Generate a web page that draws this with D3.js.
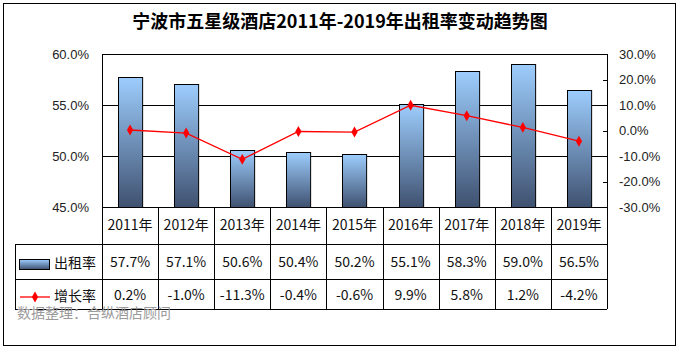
<!DOCTYPE html>
<html>
<head>
<meta charset="utf-8">
<script src="https://cdn.jsdelivr.net/npm/d3@7"></script>
<style>
  html, body { margin: 0; padding: 0; background: #fff; }
  svg { display: block; }
</style>
</head>
<body>
<div id="chart"></div>
<script>
// Ningbo five-star hotel occupancy 2011-2019: bars + growth line, Excel-style data table below

const years = ["2011年", "2012年", "2013年", "2014年", "2015年", "2016年", "2017年", "2018年", "2019年"];
const occupancy = [57.7, 57.1, 50.6, 50.4, 50.2, 55.1, 58.3, 59.0, 56.5];
const growth = [0.2, -1.0, -11.3, -0.4, -0.6, 9.9, 5.8, 1.2, -4.2];
const leftTicks = [45, 50, 55, 60];
const rightTicks = [-30, -20, -10, 0, 10, 20, 30];

const W = 682, H = 351;
const plot = { left: 102, right: 607, top: 54, bottom: 207 };
const rowY = [207, 244, 279, 309];   // table row edges
const tableLeft = 15;
const cjk = "'Noto Sans CJK SC', 'Noto Sans', sans-serif";
const latin = "'Liberation Sans', Arial, sans-serif";

const svg = d3.select("#chart").append("svg")
  .attr("width", W).attr("height", H);

const defs = svg.append("defs");
const grad = defs.append("linearGradient").attr("id", "barGrad")
  .attr("x1", "0").attr("y1", "0").attr("x2", "0").attr("y2", "1");
grad.append("stop").attr("offset", "0%").attr("stop-color", "#9dcdfd");
grad.append("stop").attr("offset", "100%").attr("stop-color", "#3f5170");

// outer frame
svg.append("rect").attr("x", 3.5).attr("y", 3.5).attr("width", 672).attr("height", 342)
  .attr("fill", "#fff").attr("stroke", "#000").attr("stroke-width", 1);

svg.append("text")
  .attr("x", 340).attr("y", 28).attr("text-anchor", "middle")
  .style("font-family", cjk).style("font-size", "18px").style("font-weight", "bold")
  .text("宁波市五星级酒店2011年-2019年出租率变动趋势图");

const x = d3.scaleBand().domain(years).range([plot.left, plot.right])
  .paddingInner(0.57).paddingOuter(0.285);
const yL = d3.scaleLinear().domain([45, 60]).range([plot.bottom, plot.top]);
const yR = d3.scaleLinear().domain([-30, 30]).range([plot.bottom, plot.top]);

// gridlines
svg.append("g").selectAll("line").data(leftTicks.slice(1, -1)).join("line")
  .attr("x1", plot.left).attr("x2", plot.right)
  .attr("y1", d => Math.round(yL(d)) + 0.5).attr("y2", d => Math.round(yL(d)) + 0.5)
  .attr("stroke", "#000").attr("stroke-width", 1);

// plot box
svg.append("rect").attr("x", plot.left + 0.5).attr("y", plot.top + 0.5)
  .attr("width", plot.right - plot.left).attr("height", plot.bottom - plot.top)
  .attr("fill", "none").attr("stroke", "#000");

// left axis labels
svg.append("g").selectAll("text").data(leftTicks).join("text")
  .attr("x", 89).attr("y", d => yL(d)).attr("dy", "0.35em").attr("text-anchor", "end")
  .style("font-family", latin).style("font-size", "13px").attr("fill", "#222")
  .text(d => d.toFixed(1) + "%");

// right axis ticks + labels
svg.append("g").selectAll("line").data(rightTicks).join("line")
  .attr("x1", plot.right - 4).attr("x2", plot.right)
  .attr("y1", d => Math.round(yR(d)) + 0.5).attr("y2", d => Math.round(yR(d)) + 0.5)
  .attr("stroke", "#000");
svg.append("g").selectAll("text").data(rightTicks).join("text")
  .attr("x", 619).attr("y", d => yR(d)).attr("dy", "0.35em")
  .style("font-family", latin).style("font-size", "13px").attr("fill", "#222")
  .text(d => d.toFixed(1) + "%");

// bars
svg.append("g").selectAll("rect").data(occupancy).join("rect")
  .attr("x", (d, i) => Math.round(x(years[i])) + 0.5)
  .attr("y", d => Math.round(yL(d)) + 0.5)
  .attr("width", x.bandwidth())
  .attr("height", d => plot.bottom - Math.round(yL(d)))
  .attr("fill", "url(#barGrad)").attr("stroke", "#000").attr("stroke-width", 1);

// growth line
const cx = i => x(years[i]) + x.bandwidth() / 2;
svg.append("path").datum(growth)
  .attr("d", d3.line().x((d, i) => cx(i)).y(d => yR(d)))
  .attr("fill", "none").attr("stroke", "#ff0000").attr("stroke-width", 1.3);
const diamond = d3.symbol().type(d3.symbolDiamond).size(34);
svg.append("g").selectAll("path").data(growth).join("path")
  .attr("transform", (d, i) => `translate(${cx(i)},${yR(d)})`)
  .attr("d", diamond).attr("fill", "#ff0000");

// data table
const step = x.step();
const colEdges = d3.range(years.length + 1).map(i => plot.left + i * step);
const tbl = svg.append("g").attr("stroke", "#000").attr("stroke-width", 1);
// horizontal lines
tbl.append("line").attr("x1", plot.left).attr("x2", plot.right)
  .attr("y1", rowY[0] + 0.5).attr("y2", rowY[0] + 0.5);
[rowY[1], rowY[2], rowY[3]].forEach(y => {
  tbl.append("line").attr("x1", tableLeft).attr("x2", plot.right)
    .attr("y1", y + 0.5).attr("y2", y + 0.5);
});
// vertical lines
colEdges.forEach(xx => {
  tbl.append("line").attr("x1", Math.round(xx) + 0.5).attr("x2", Math.round(xx) + 0.5)
    .attr("y1", rowY[0]).attr("y2", rowY[3]);
});
tbl.append("line").attr("x1", tableLeft + 0.5).attr("x2", tableLeft + 0.5)
  .attr("y1", rowY[1]).attr("y2", rowY[3]);

const cellText = (vals, yMid) => svg.append("g").selectAll("text").data(vals).join("text")
  .attr("x", (d, i) => plot.left + (i + 0.5) * step).attr("y", yMid).attr("dy", "0.35em")
  .attr("text-anchor", "middle")
  .style("font-family", cjk).style("font-size", "14px").attr("fill", "#111")
  .text(d => d);

cellText(years, 225);
cellText(occupancy.map(v => v.toFixed(1) + "%"), 262);
cellText(growth.map(v => v.toFixed(1) + "%"), 295);

// legend keys in table
svg.append("rect").attr("x", 19.5).attr("y", 259.5).attr("width", 30).attr("height", 10)
  .attr("fill", "url(#barGrad)").attr("stroke", "#000");
svg.append("text").attr("x", 54).attr("y", 263).attr("dy", "0.35em")
  .style("font-family", cjk).style("font-size", "14px").attr("fill", "#111").text("出租率");
svg.append("line").attr("x1", 20).attr("x2", 50).attr("y1", 297).attr("y2", 297)
  .attr("stroke", "#ff0000").attr("stroke-width", 1.3);
svg.append("path").attr("transform", "translate(35,297)").attr("d", diamond).attr("fill", "#ff0000");
svg.append("text").attr("x", 54).attr("y", 296).attr("dy", "0.35em")
  .style("font-family", cjk).style("font-size", "14px").attr("fill", "#111").text("增长率");

// source note
svg.append("text").attr("x", 17).attr("y", 313).attr("dy", "0.35em")
  .style("font-family", cjk).style("font-size", "14px").attr("fill", "#9a9a9a")
  .text("数据整理：合纵酒店顾问");
</script>
</body>
</html>
